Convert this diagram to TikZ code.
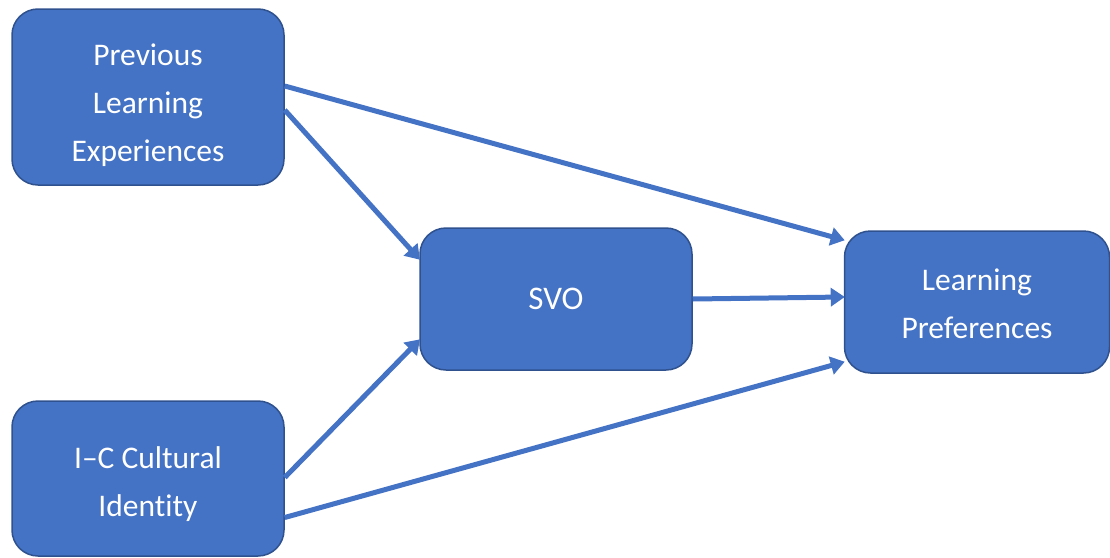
\documentclass[tikz,border=0pt]{standalone}
\usepackage{fontspec}
\setmainfont{Carlito}[Ligatures={NoCommon}]
\usetikzlibrary{arrows.meta}
\definecolor{boxfill}{HTML}{4472C4}
\definecolor{boxline}{HTML}{2F528F}
\begin{document}
\begin{tikzpicture}[x=1pt,y=-1pt,
  box/.style={draw=boxline, line width=1.5pt, fill=boxfill, rounded corners=26pt,
    text=white, align=center, inner sep=0pt,
    font=\fontsize{31.5}{48}\selectfont},
  conn/.style={draw=boxfill, line width=5pt,
    -{Triangle[length=14pt,width=18pt]}, shorten >=-1pt}]
\useasboundingbox (0,0) rectangle (1110,557);
\node[box, minimum width=272pt, minimum height=176pt] (ple) at (148,97) {\rule{0pt}{39pt}Previous\\Learning\\Experiences};
\node[box, minimum width=272pt, minimum height=155pt] (ici) at (148,478.5) {\rule{0pt}{33pt}I–C Cultural\\Identity};
\node[box, minimum width=272pt, minimum height=142pt] (svo) at (556,299) {\fontsize{33}{48}\selectfont SVO};
\node[box, minimum width=265pt, minimum height=142pt] (lp) at (977,302) {\rule{0pt}{26pt}Learning\\Preferences};
\draw[conn] ([yshift=11pt]ple.east) -- ([yshift=62pt]lp.west);
\draw[conn] ([yshift=-13pt]ple.east) -- ([yshift=40pt]svo.west);
\draw[conn] (svo.east) -- ([yshift=5pt]lp.west);
\draw[conn] ([yshift=1pt]ici.east) -- ([yshift=-41pt]svo.west);
\draw[conn] ([yshift=-39pt]ici.east) -- ([yshift=-60pt]lp.west);
\end{tikzpicture}
\end{document}
